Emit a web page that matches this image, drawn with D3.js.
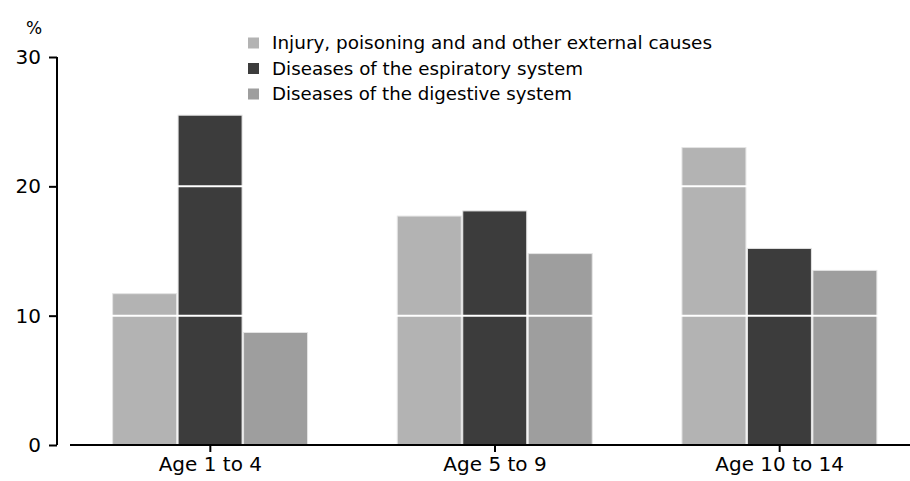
<!DOCTYPE html>
<html>
<head>
<meta charset="utf-8">
<script src="https://cdn.jsdelivr.net/npm/d3@7"></script>
<style>
  html, body { margin: 0; padding: 0; background: #fff; }
  svg { display: block; }
  text { font-family: "DejaVu Sans", sans-serif; fill: #000; }
</style>
</head>
<body>
<svg id="chart" width="910" height="481"></svg>
<script>
const categories = ["Age 1 to 4", "Age 5 to 9", "Age 10 to 14"];
const seriesNames = [
  "Injury, poisoning and and other external causes",
  "Diseases of the espiratory system",
  "Diseases of the digestive system"
];
const injury = [11.7, 17.7, 23.0];
const respiratory = [25.5, 18.1, 15.2];
const digestive = [8.7, 14.8, 13.5];
const yTicks = [0, 10, 20, 30];
const colors = ["#b3b3b3", "#3c3c3c", "#9e9e9e"];

const seriesValues = [injury, respiratory, digestive];
const svg = d3.select("#chart");

const y = d3.scaleLinear().domain([0, 30]).range([445, 57]);
const x0 = d3.scaleBand().domain(categories).range([68, 922])
  .paddingInner(0.31).paddingOuter(0.155);
const x1 = d3.scaleBand().domain(d3.range(seriesNames.length)).range([0, x0.bandwidth()]);

// bars
const groups = svg.append("g").selectAll("g").data(categories).join("g")
  .attr("transform", d => `translate(${x0(d)},0)`);
groups.selectAll("rect")
  .data((c, ci) => seriesValues.map((vals, si) => ({si, v: vals[ci]})))
  .join("rect")
  .attr("x", d => x1(d.si) + 0.5)
  .attr("width", x1.bandwidth() - 1.5)
  .attr("y", d => y(d.v))
  .attr("height", d => y(0) - y(d.v))
  .attr("fill", d => colors[d.si])
  .attr("stroke", "#e4e4e4")
  .attr("stroke-width", 1);

// white gridlines over bars
svg.append("g").selectAll("line").data(yTicks.filter(t => t > 0 && t < 30)).join("line")
  .attr("x1", 70).attr("x2", 910)
  .attr("y1", d => y(d)).attr("y2", d => y(d))
  .attr("stroke", "#fff").attr("stroke-width", 2);

// y axis
const yAxis = d3.axisLeft(y).tickValues(yTicks).tickSize(8).tickPadding(8).tickFormat(d3.format("d"));
const yg = svg.append("g").attr("transform", "translate(57,0)").call(yAxis);
yg.select(".domain").attr("stroke", "#000").attr("stroke-width", 2).attr("d", `M0,${y(30)}V${y(0)}`);
yg.selectAll(".tick line").attr("stroke", "#000").attr("stroke-width", 2);
yg.selectAll(".tick text").attr("font-size", 20).attr("font-family", "DejaVu Sans").attr("fill", "#000");

// x axis
const xAxis = d3.axisBottom(x0).tickSize(7).tickPadding(5);
const xg = svg.append("g").attr("transform", `translate(0,${y(0)})`).call(xAxis);
xg.select(".domain").attr("stroke", "#000").attr("stroke-width", 2).attr("d", "M70,0H910");
xg.selectAll(".tick line").attr("stroke", "#000").attr("stroke-width", 2);
xg.selectAll(".tick text").attr("font-size", 20).attr("font-family", "DejaVu Sans").attr("fill", "#000");

// unit label
svg.append("text").attr("x", 34).attr("y", 34).attr("text-anchor", "middle")
  .attr("font-size", 17).text("%");

// legend
const legendWidths = [440, 311, 300];
const leg = svg.append("g").selectAll("g").data(seriesNames).join("g")
  .attr("transform", (d, i) => `translate(248,${43 + i * 25.5})`);
leg.append("rect").attr("x", 0).attr("y", -5.5).attr("width", 11).attr("height", 11)
  .attr("fill", (d, i) => colors[i]);
leg.append("text").attr("x", 24).attr("y", 6).attr("font-size", 17)
  .attr("textLength", (d, i) => legendWidths[i]).attr("lengthAdjust", "spacingAndGlyphs")
  .text(d => d);
</script>
</body>
</html>
